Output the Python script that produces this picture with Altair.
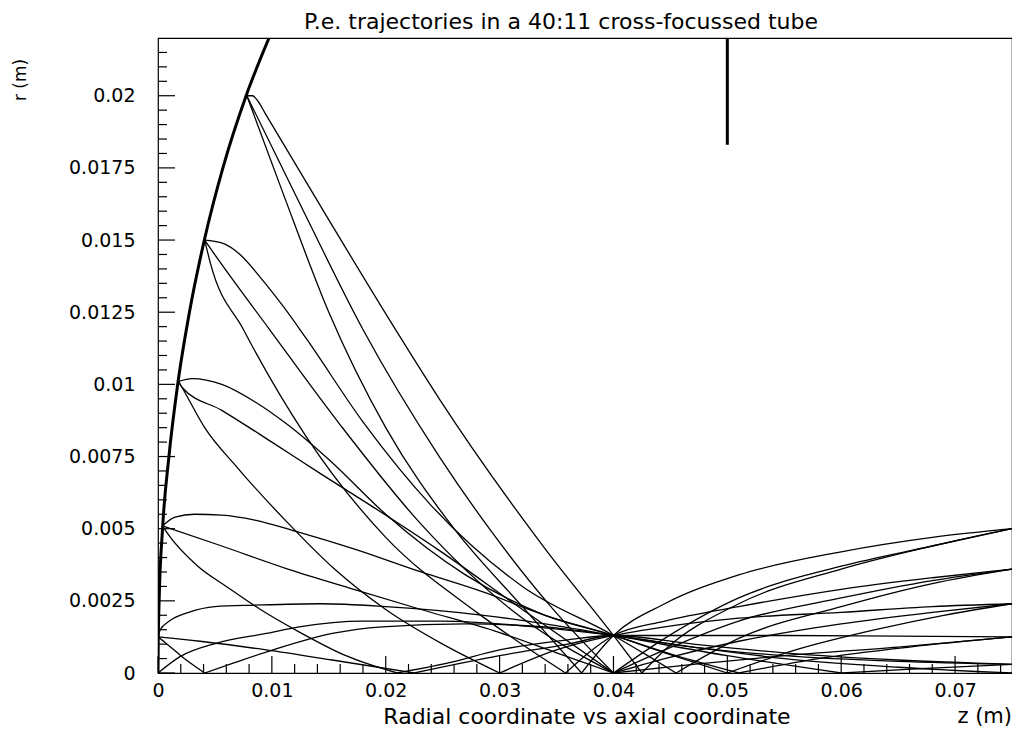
import altair as alt
import pandas as pd

# ---------------- axes / ticks ----------------
Z_DOMAIN = [0, 0.075]
R_DOMAIN = [0, 0.022]
X_MAJOR = [0, 0.01, 0.02, 0.03, 0.04, 0.05, 0.06, 0.07]
X_MINOR = [0.002, 0.004, 0.006, 0.008, 0.012, 0.014, 0.016, 0.018, 0.022, 0.024,
           0.026, 0.028, 0.032, 0.034, 0.036, 0.038, 0.042, 0.044, 0.046, 0.048,
           0.052, 0.054, 0.056, 0.058, 0.062, 0.064, 0.066, 0.068, 0.072, 0.074]
Y_MAJOR = [0, 0.0025, 0.005, 0.0075, 0.01, 0.0125, 0.015, 0.0175, 0.02]
Y_MINOR = [0.0005, 0.001, 0.0015, 0.002, 0.003, 0.0035, 0.004, 0.0045, 0.0055, 0.006,
           0.0065, 0.007, 0.008, 0.0085, 0.009, 0.0095, 0.0105, 0.011, 0.0115, 0.012,
           0.013, 0.0135, 0.014, 0.0145, 0.0155, 0.016, 0.0165, 0.017, 0.018, 0.0185,
           0.019, 0.0195, 0.0205, 0.021, 0.0215]

TITLE = "P.e. trajectories in a 40:11 cross-focussed tube"
X_TITLE = "Radial coordinate vs axial coordinate"
X_UNIT = "z (m)"
Y_UNIT = "r (m)"

# ---------------- cathode and marker ----------------
CATHODE_Z = [0.0, 0.00002, 0.0001, 0.0004, 0.00096, 0.00173, 0.00276, 0.00407, 0.0057, 0.00774, 0.00975]
CATHODE_R = [0.0, 0.001, 0.0025, 0.005, 0.0075, 0.01, 0.0125, 0.015, 0.0175, 0.02, 0.022]
MARK_Z = [0.05]
MARK_R = [0.0183]
MARK_R2 = [0.022]

# ---------------- trajectories (z list, r list) ----------------
S1_UP_1 = ([0.0078, 0.0083, 0.0088, 0.0094, 0.0150, 0.0207, 0.0247, 0.0340, 0.0400, 0.0425],
           [0.0200, 0.0200, 0.0198, 0.0194, 0.0157, 0.0120, 0.0095, 0.0043, 0.0013, 0.0])
S1_UP_2 = ([0.0425, 0.0445, 0.051, 0.060, 0.068, 0.075],
           [0.0, 0.0008, 0.0024, 0.0036, 0.0044, 0.0050])
S1_MID_1 = ([0.0078, 0.0129, 0.0180, 0.0247, 0.0291, 0.0345, 0.0400],
            [0.0200, 0.0159, 0.0119, 0.0075, 0.0050, 0.0023, 0.0])
S1_MID_2 = ([0.0400, 0.0445, 0.051, 0.060, 0.068, 0.075],
            [0.0, 0.0012, 0.0026, 0.0037, 0.0044, 0.0050])
S1_LOW_1 = ([0.0078, 0.0110, 0.0150, 0.0200, 0.0260, 0.0320, 0.0372],
            [0.0200, 0.0166, 0.0125, 0.0085, 0.0050, 0.0023, 0.0])
S1_LOW_2 = ([0.0372, 0.0400, 0.0445, 0.051, 0.060, 0.068, 0.075],
            [0.0, 0.0013, 0.0024, 0.0034, 0.0042, 0.0047, 0.0050])

S2_UP_1 = ([0.0041, 0.0056, 0.0072, 0.0090, 0.0110, 0.0130, 0.0180, 0.0240, 0.0320, 0.0400, 0.0430, 0.0455],
           [0.0150, 0.0149, 0.0145, 0.0137, 0.0127, 0.0116, 0.0087, 0.0058, 0.0030, 0.0013, 0.0006, 0.0])
S2_UP_2 = ([0.0455, 0.051, 0.060, 0.068, 0.075],
           [0.0, 0.0012, 0.0023, 0.0031, 0.0036])
S2_MID_1 = ([0.0041, 0.0048, 0.0098, 0.0160, 0.0230, 0.0310, 0.0400],
            [0.0150, 0.0146, 0.0119, 0.0086, 0.0052, 0.0022, 0.0])
S2_MID_2 = ([0.0400, 0.0445, 0.051, 0.060, 0.068, 0.075],
            [0.0, 0.0008, 0.0018, 0.0026, 0.0032, 0.0036])
S2_LOW_1 = ([0.0041, 0.0046, 0.0075, 0.0130, 0.0200, 0.0280, 0.0358],
            [0.0150, 0.0142, 0.0119, 0.0082, 0.0047, 0.0021, 0.0])
S2_LOW_2 = ([0.0358, 0.0400, 0.0445, 0.051, 0.060, 0.068, 0.075],
            [0.0, 0.0013, 0.0018, 0.0023, 0.0029, 0.0033, 0.0036])

S3_UP_1 = ([0.0018, 0.0030, 0.0056, 0.0085, 0.0114, 0.0150, 0.0200, 0.0270, 0.0340, 0.0400, 0.0445, 0.0500],
           [0.0101, 0.0102, 0.0100, 0.0094, 0.0086, 0.0074, 0.0055, 0.0034, 0.0020, 0.0013, 0.0007, 0.0])
S3_UP_2 = ([0.0500, 0.0560, 0.0630, 0.0690, 0.0750],
           [0.0, 0.0008, 0.0015, 0.0020, 0.0024])
S3_MID_1 = ([0.0018, 0.0021, 0.0056, 0.0100, 0.0143, 0.0187, 0.0245, 0.0320, 0.0400],
            [0.0101, 0.0099, 0.0091, 0.0080, 0.0069, 0.0058, 0.0043, 0.0022, 0.0])
S3_MID_2 = ([0.0400, 0.0445, 0.051, 0.060, 0.068, 0.075],
            [0.0, 0.0005, 0.0011, 0.0017, 0.0021, 0.0024])
S3_LOW_1 = ([0.0018, 0.0021, 0.0041, 0.0070, 0.0114, 0.0155, 0.0200, 0.0250, 0.0300],
            [0.0101, 0.0099, 0.0085, 0.0071, 0.0052, 0.0036, 0.0022, 0.0010, 0.0])
S3_LOW_2 = ([0.0300, 0.0350, 0.0400, 0.0445, 0.051, 0.060, 0.068, 0.075],
            [0.0, 0.0008, 0.0013, 0.0016, 0.0019, 0.0021, 0.0023, 0.0024])

S4_UP_1 = ([0.0004, 0.0015, 0.0032, 0.0056, 0.0085, 0.0122, 0.0172, 0.0231, 0.0286, 0.0340, 0.0400, 0.0455, 0.0510],
           [0.0051, 0.0054, 0.0055, 0.00547, 0.0053, 0.0049, 0.0043, 0.0035, 0.0028, 0.0020, 0.0013, 0.0006, 0.0])
S4_UP_2 = ([0.0510, 0.0580, 0.0660, 0.0750],
           [0.0, 0.0005, 0.0009, 0.00125])
S4_MID_1 = ([0.0004, 0.0056, 0.0114, 0.0172, 0.0231, 0.0300, 0.0350, 0.0400],
            [0.0051, 0.0044, 0.0036, 0.0029, 0.0022, 0.0014, 0.0007, 0.0])
S4_MID_2 = ([0.0400, 0.0470, 0.0550, 0.0650, 0.0750],
            [0.0, 0.0003, 0.0006, 0.0009, 0.00125])
S4_LOW_1 = ([0.0004, 0.0009, 0.0035, 0.0060, 0.0090, 0.0125, 0.0165, 0.0210],
            [0.0051, 0.0048, 0.0037, 0.0030, 0.0022, 0.0014, 0.0006, 0.0])
S4_LOW_2 = ([0.0210, 0.0255, 0.0300, 0.0358, 0.0400, 0.0470, 0.0550, 0.0650, 0.0750],
            [0.0, 0.00035, 0.0008, 0.00114, 0.0013, 0.0013, 0.0013, 0.00128, 0.00125])

S5_UP_1 = ([0.0, 0.0002, 0.0010, 0.0027, 0.0050, 0.0085, 0.0143, 0.0200, 0.0286, 0.0340, 0.0400, 0.0500, 0.0600],
           [0.00125, 0.0015, 0.0018, 0.0021, 0.0023, 0.00235, 0.0024, 0.0023, 0.0020, 0.0017, 0.0013, 0.0006, 0.0])
S5_UP_2 = ([0.0600, 0.0670, 0.0750],
           [0.0, 0.00015, 0.0003])
S5_MID_1 = ([0.0, 0.0037, 0.0095, 0.0153, 0.0225],
            [0.00125, 0.0011, 0.0008, 0.00045, 0.0])
S5_MID_2 = ([0.0225, 0.0300, 0.0360, 0.0400, 0.0470, 0.0550, 0.0650, 0.0750],
            [0.0, 0.0006, 0.0010, 0.0013, 0.0010, 0.0007, 0.00045, 0.0003])
S5_LOW_1 = ([0.0, 0.0008, 0.0020, 0.0041],
            [0.00125, 0.0010, 0.0006, 0.0])
S5_LOW_2 = ([0.0041, 0.0066, 0.0101, 0.0153, 0.0197, 0.0270, 0.0340, 0.0400, 0.0470, 0.0550, 0.0650, 0.0750],
            [0.0, 0.00034, 0.0008, 0.00137, 0.0016, 0.0017, 0.0016, 0.0013, 0.0009, 0.0006, 0.0004, 0.0003])

S0_UP = ([0.0, 0.0019, 0.0051, 0.0095, 0.0124, 0.0180, 0.0250, 0.0330, 0.0400, 0.0470, 0.0550, 0.0650, 0.0750],
         [0.0, 0.00056, 0.00103, 0.00137, 0.0016, 0.0018, 0.0018, 0.0016, 0.0013, 0.0009, 0.0005, 0.0002, 0.0])

SEGMENTS = {
    "S1_UP_1": S1_UP_1, "S1_UP_2": S1_UP_2, "S1_MID_1": S1_MID_1, "S1_MID_2": S1_MID_2,
    "S1_LOW_1": S1_LOW_1, "S1_LOW_2": S1_LOW_2,
    "S2_UP_1": S2_UP_1, "S2_UP_2": S2_UP_2, "S2_MID_1": S2_MID_1, "S2_MID_2": S2_MID_2,
    "S2_LOW_1": S2_LOW_1, "S2_LOW_2": S2_LOW_2,
    "S3_UP_1": S3_UP_1, "S3_UP_2": S3_UP_2, "S3_MID_1": S3_MID_1, "S3_MID_2": S3_MID_2,
    "S3_LOW_1": S3_LOW_1, "S3_LOW_2": S3_LOW_2,
    "S4_UP_1": S4_UP_1, "S4_UP_2": S4_UP_2, "S4_MID_1": S4_MID_1, "S4_MID_2": S4_MID_2,
    "S4_LOW_1": S4_LOW_1, "S4_LOW_2": S4_LOW_2,
    "S5_UP_1": S5_UP_1, "S5_UP_2": S5_UP_2, "S5_MID_1": S5_MID_1, "S5_MID_2": S5_MID_2,
    "S5_LOW_1": S5_LOW_1, "S5_LOW_2": S5_LOW_2,
    "S0_UP": S0_UP,
}

rows = []
for name, (zs, rs) in SEGMENTS.items():
    for i, (z, r) in enumerate(zip(zs, rs)):
        rows.append({"seg": name, "i": i, "z": z, "r": r})
traj_df = pd.DataFrame(rows)
cathode_df = pd.DataFrame({"z": CATHODE_Z, "r": CATHODE_R, "i": list(range(len(CATHODE_Z)))})
mark_df = pd.DataFrame({"z": MARK_Z, "r": MARK_R, "r2": MARK_R2})

FONT = "DejaVu Sans"
W, H = 854, 635

xs = alt.Scale(domain=Z_DOMAIN, nice=False, zero=False)
ys = alt.Scale(domain=R_DOMAIN, nice=False, zero=False)
x_axis = alt.Axis(values=X_MAJOR, labelExpr="format(datum.value, '~g')", ticks=False, domain=False,
                  grid=False, labelFont=FONT, labelFontSize=19, labelColor="black", labelPadding=8,
                  labelFlush=False, title="")
y_axis = alt.Axis(values=Y_MAJOR, labelExpr="format(datum.value, '~g')", ticks=False, domain=False,
                  grid=False, labelFont=FONT, labelFontSize=19, labelColor="black", labelPadding=23,
                  labelFlush=False, title="")
X_ENC = alt.X("z:Q", scale=xs, axis=x_axis)
Y_ENC = alt.Y("r:Q", scale=ys, axis=y_axis)

traj = alt.Chart(traj_df).mark_line(
    color="black", strokeWidth=1.3, interpolate="monotone", clip=True
).encode(x=X_ENC, y=Y_ENC, detail="seg:N", order="i:Q")

cathode = alt.Chart(cathode_df).mark_line(
    color="black", strokeWidth=3, interpolate="monotone", clip=True
).encode(x=X_ENC, y=Y_ENC, order="i:Q")

marker = alt.Chart(mark_df).mark_rule(color="black", strokeWidth=3).encode(
    x=X_ENC, y=Y_ENC, y2="r2:Q")

ytick_major = alt.Chart(pd.DataFrame({"r": Y_MAJOR})).mark_rule(color="black", strokeWidth=1.2).encode(
    y=Y_ENC, x=alt.value(0), x2=alt.value(17))
ytick_minor = alt.Chart(pd.DataFrame({"r": Y_MINOR})).mark_rule(color="black", strokeWidth=1.2).encode(
    y=Y_ENC, x=alt.value(0), x2=alt.value(9))
xtick_major = alt.Chart(pd.DataFrame({"z": X_MAJOR})).mark_rule(color="black", strokeWidth=1.2).encode(
    x=X_ENC, y=alt.value(H), y2=alt.value(H - 17))
xtick_minor = alt.Chart(pd.DataFrame({"z": X_MINOR})).mark_rule(color="black", strokeWidth=1.2).encode(
    x=X_ENC, y=alt.value(H), y2=alt.value(H - 9))


def label(text, x, y, align="center", angle=0, size=19):
    return alt.Chart(pd.DataFrame({"t": [text]})).mark_text(
        font=FONT, fontSize=size, color="black", align=align, baseline="middle", angle=angle
    ).encode(text="t:N", x=alt.value(x), y=alt.value(y))


title = label(TITLE, 403, -16, size=22)
xtitle = label(X_TITLE, 429, 679, size=22)
xunit = label(X_UNIT, W, 679, align="right", size=21)
yunit = label(Y_UNIT, -137, 42, angle=270, size=17)

chart = alt.layer(
    traj, cathode, marker, ytick_major, ytick_minor, xtick_major, xtick_minor,
    title, xtitle, xunit, yunit
).properties(
    width=W, height=H,
    autosize=alt.AutoSizeParams(type="none"),
    padding={"left": 150, "top": 30, "right": 0, "bottom": 55},
    background="white",
).configure_view(stroke="black", strokeWidth=1.2)

chart.save("out.html", embed_options={"renderer": "svg", "actions": False})
